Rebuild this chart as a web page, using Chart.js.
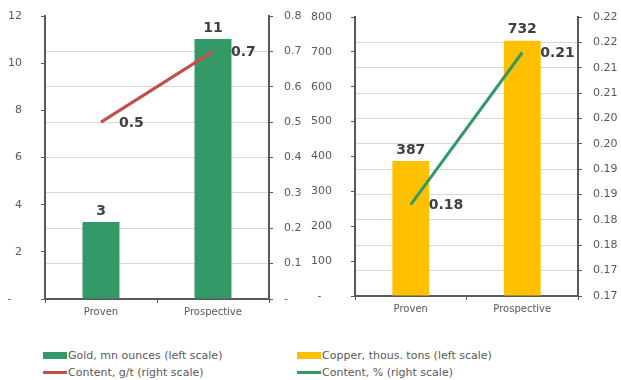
<!DOCTYPE html>
<html>
<head>
<meta charset="utf-8">
<script src="https://cdn.jsdelivr.net/npm/chart.js@4/dist/chart.umd.min.js"></script>
<style>
  body { margin: 0; background: #fff; font-family: "DejaVu Sans", sans-serif; }
  #wrap { position: relative; width: 621px; height: 380px; overflow: hidden; }
  canvas { position: absolute; top: 0; }
  .legend { position: absolute; font-size: 11px; color: #595959; line-height: 17px; }
  .legend div { display: flex; align-items: center; white-space: nowrap; }
  .sw { width: 24px; margin-right: 1px; }
</style>
</head>
<body>
<div id="wrap">
  <canvas id="goldChart" width="310" height="325" style="left:0"></canvas>
  <canvas id="copperChart" width="311" height="325" style="left:310px"></canvas>
  <div class="legend" style="left:43px; top:347px">
    <div><span class="sw" style="height:7px;background:#339966"></span>Gold, mn ounces (left scale)</div>
    <div><span class="sw" style="height:3px;background:#c0504d"></span>Content, g/t (right scale)</div>
  </div>
  <div class="legend" style="left:297px; top:347px">
    <div><span class="sw" style="height:7px;background:#ffc000"></span>Copper, thous. tons (left scale)</div>
    <div><span class="sw" style="height:3px;background:#339966"></span>Content, % (right scale)</div>
  </div>
</div>
<script>
// Datos
const categorias = ['Proven', 'Prospective'];

const oroOnzas = [3.27, 11.02];
const oroLey = [0.5, 0.7];
const oroTicksIzq = [0, 2, 4, 6, 8, 10, 12];
const oroTicksDer = [0, 0.1, 0.2, 0.3, 0.4, 0.5, 0.6, 0.7, 0.8];

const cobreToneladas = [387, 732];
const cobreLey = [0.188, 0.218];
const cobreTicksIzq = [0, 100, 200, 300, 400, 500, 600, 700, 800];
const cobreTicksDer = [0.17, 0.175, 0.18, 0.185, 0.19, 0.195, 0.2, 0.205, 0.21, 0.215, 0.22, 0.225];

const fuente = '"DejaVu Sans", sans-serif';
const gris = '#595959';
const ejes = '#595959';

// recorta a 2 decimales (como el original)
const trunc2 = v => (Math.floor(v * 100 + 1e-6) / 100).toFixed(2);

// Etiquetas de valores
const etiquetas = {
  id: 'etiquetas',
  afterDatasetsDraw(chart) {
    const ctx = chart.ctx;
    ctx.save();
    ctx.font = 'bold 14px ' + fuente;
    ctx.fillStyle = '#404040';
    chart.data.datasets.forEach((ds, i) => {
      const meta = chart.getDatasetMeta(i);
      meta.data.forEach((el, j) => {
        const txt = ds.formato(ds.data[j]);
        if (ds.type === 'bar') {
          ctx.textAlign = 'center';
          ctx.textBaseline = 'bottom';
          ctx.fillText(txt, el.x, el.y - 4);
        } else {
          ctx.textAlign = 'left';
          ctx.textBaseline = 'middle';
          ctx.fillText(txt, el.x + 18, el.y + 1);
        }
      });
    });
    ctx.restore();
  }
};

function fijarTicks(valores) {
  return scale => { scale.ticks = valores.map(v => ({ value: v })); };
}

// ancho fijo y sin relleno extra arriba/abajo
function ancho(w) {
  return s => { s.width = w; s.paddingTop = 0; s.paddingBottom = 0; };
}

function crearGrafico(id, barras, colorBarra, linea, colorLinea, ticksIzq, ticksDer, fmtIzq, fmtDer, fmtBarra, fmtLinea, top, bottom, alto, anchoDer) {
  const maxDer = ticksDer[ticksDer.length - 1];
  return new Chart(document.getElementById(id).getContext('2d'), {
    data: {
      labels: categorias,
      datasets: [
        {
          type: 'line',
          data: linea,
          yAxisID: 'y1',
          borderColor: colorLinea,
          borderWidth: 3,
          pointRadius: 0,
          order: 0,
          formato: fmtLinea
        },
        {
          type: 'bar',
          data: barras,
          yAxisID: 'y',
          backgroundColor: colorBarra,
          barPercentage: 0.33,
          categoryPercentage: 1,
          order: 1,
          formato: fmtBarra
        }
      ]
    },
    options: {
      responsive: false,
      devicePixelRatio: 1,
      animation: false,
      layout: { padding: { top: top, left: 0, right: 0, bottom: 0 } },
      plugins: { legend: { display: false }, tooltip: { enabled: false } },
      scales: {
        x: {
          grid: { drawOnChartArea: false, tickLength: 4, tickColor: ejes, offset: true },
          border: { color: ejes, width: 2 },
          ticks: { color: gris, font: { family: fuente, size: 10 }, padding: 3 },
          afterFit: s => { s.height = alto - bottom; s.paddingLeft = 0; s.paddingRight = 0; }
        },
        y: {
          position: 'left',
          min: ticksIzq[0],
          max: ticksIzq[ticksIzq.length - 1],
          afterBuildTicks: fijarTicks(ticksIzq),
          grid: { drawOnChartArea: false, tickLength: 4, tickColor: ejes },
          border: { color: ejes, width: 2 },
          ticks: { color: gris, font: { family: fuente, size: 11 }, padding: 19, callback: fmtIzq },
          afterFit: ancho(45)
        },
        y1: {
          position: 'right',
          min: ticksDer[0],
          max: maxDer,
          afterBuildTicks: fijarTicks(ticksDer),
          grid: {
            drawOnChartArea: true,
            tickLength: 4,
            tickColor: ejes,
            color: c => (c.tick && c.tick.value === maxDer) ? 'rgba(0,0,0,0)' : '#d9d9d9'
          },
          border: { color: ejes, width: 2 },
          ticks: { color: gris, font: { family: fuente, size: 11 }, padding: 11, callback: fmtDer },
          afterFit: ancho(anchoDer)
        }
      }
    },
    plugins: [etiquetas]
  });
}

crearGrafico('goldChart', oroOnzas, '#339966', oroLey, '#c0504d',
  oroTicksIzq, oroTicksDer,
  v => v === 0 ? '-   ' : String(v),
  v => v === 0 ? '-' : v.toFixed(1),
  v => Math.round(v).toString(),
  v => v.toFixed(1),
  16, 299, 325, 41);

crearGrafico('copperChart', cobreToneladas, '#ffc000', cobreLey, '#339966',
  cobreTicksIzq, cobreTicksDer,
  v => v === 0 ? '-   ' : String(v),
  v => trunc2(v),
  v => Math.round(v).toString(),
  v => trunc2(v),
  17, 296, 325, 43);
</script>
</body>
</html>
